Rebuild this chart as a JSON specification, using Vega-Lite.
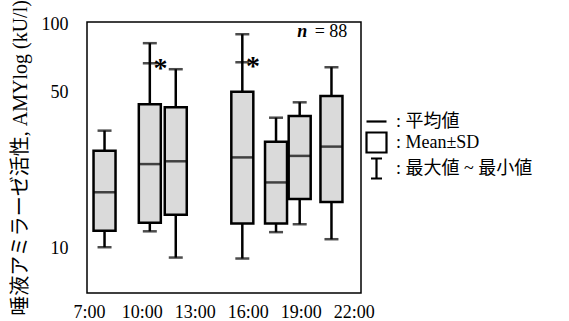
{
  "$schema": "https://vega.github.io/schema/vega-lite/v6.json",
  "width": 274,
  "height": 271,
  "autosize": {"type": "none"},
  "padding": {"left": 87, "top": 22, "right": 208, "bottom": 28},
  "background": "white",
  "config": {
    "view": {"stroke": "black", "strokeWidth": 1.5, "fill": "#f4f4f4"},
    "font": "Liberation Serif"
  },
  "datasets": {
    "boxes": [
      {"time": "7:45", "hour": 7.885, "min": 10.1, "lo": 11.96, "mean": 17.8, "hi": 27.3, "max": 33.6},
      {"time": "10:30", "hour": 10.45, "min": 11.9, "lo": 13.0, "mean": 23.8, "hi": 44.1, "max": 82.8},
      {"time": "12:00", "hour": 11.92, "min": 9.08, "lo": 14.1, "mean": 24.5, "hi": 42.8, "max": 63.3},
      {"time": "15:40", "hour": 15.69, "min": 8.99, "lo": 12.9, "mean": 25.5, "hi": 50.2, "max": 90.8},
      {"time": "17:35", "hour": 17.6, "min": 11.8, "lo": 12.9, "mean": 19.7, "hi": 30.0, "max": 38.4},
      {"time": "18:55", "hour": 18.94, "min": 12.8, "lo": 16.6, "mean": 25.9, "hi": 39.1, "max": 45.0},
      {"time": "20:45", "hour": 20.74, "min": 10.97, "lo": 16.1, "mean": 28.5, "hi": 48.0, "max": 64.6}
    ],
    "marks": [
      {"hour": 10.45, "value": 67.3, "starHour": 11.05, "starValue": 68.0, "star": "*"},
      {"hour": 15.69, "value": 68.0, "starHour": 16.29, "starValue": 69.5, "star": "*"}
    ],
    "note": [
      {"hour": 21.64, "value": 93, "eq": "= 88", "n": "n"}
    ],
    "legend": [
      {"item": ":  平均値"},
      {"item": ":  Mean±SD"},
      {"item": ":  最大値 ~ 最小値"}
    ]
  },
  "layer": [
    {
      "data": {"name": "boxes"},
      "mark": {"type": "rule", "color": "black", "strokeWidth": 2.5},
      "encoding": {
        "x": {
          "field": "hour", "type": "quantitative",
          "scale": {"domain": [7.175, 22.13], "nice": false, "zero": false},
          "axis": {
            "values": [7, 10, 13, 16, 19, 22],
            "labelExpr": "datum.value + ':00'",
            "title": null, "grid": false, "ticks": false, "domain": false,
            "labelFont": "Liberation Serif", "labelFontSize": 18, "labelColor": "black",
            "labelPadding": 10, "labelFlush": false, "labelOverlap": false
          }
        },
        "y": {
          "field": "min", "type": "quantitative",
          "scale": {"type": "log", "domain": [6.3, 103], "nice": false},
          "axis": {
            "values": [10, 50, 100],
            "title": "唾液アミラーゼ活性, AMYlog (kU/l)",
            "titleFont": "Liberation Serif, Noto Sans CJK JP", "titleFontSize": 20,
            "titleFontWeight": "normal", "titleColor": "black", "titlePadding": 11,
            "grid": false, "ticks": false, "domain": false,
            "labelFont": "Liberation Serif", "labelFontSize": 18, "labelColor": "black",
            "labelPadding": 19, "labelFlush": false, "labelOverlap": false
          }
        },
        "y2": {"field": "max"}
      }
    },
    {
      "data": {"name": "boxes"},
      "mark": {"type": "bar", "size": 22, "fill": "#dadada", "stroke": "black", "strokeWidth": 2.5},
      "encoding": {
        "x": {"field": "hour", "type": "quantitative"},
        "y": {"field": "lo", "type": "quantitative"},
        "y2": {"field": "hi"}
      }
    },
    {
      "data": {"name": "boxes"},
      "mark": {"type": "tick", "orient": "horizontal", "size": 22, "thickness": 2.5, "color": "black"},
      "encoding": {
        "x": {"field": "hour", "type": "quantitative"},
        "y": {"field": "mean", "type": "quantitative"}
      }
    },
    {
      "data": {"name": "boxes"},
      "mark": {"type": "tick", "orient": "horizontal", "size": 14, "thickness": 2.5, "color": "black"},
      "encoding": {
        "x": {"field": "hour", "type": "quantitative"},
        "y": {"field": "max", "type": "quantitative"}
      }
    },
    {
      "data": {"name": "boxes"},
      "mark": {"type": "tick", "orient": "horizontal", "size": 14, "thickness": 2.5, "color": "black"},
      "encoding": {
        "x": {"field": "hour", "type": "quantitative"},
        "y": {"field": "min", "type": "quantitative"}
      }
    },
    {
      "data": {"name": "marks"},
      "mark": {"type": "tick", "orient": "horizontal", "size": 14, "thickness": 2.5, "color": "black"},
      "encoding": {
        "x": {"field": "hour", "type": "quantitative"},
        "y": {"field": "value", "type": "quantitative"}
      }
    },
    {
      "data": {"name": "marks"},
      "mark": {"type": "text", "font": "Liberation Serif", "fontSize": 28, "fontWeight": "bold", "baseline": "middle", "align": "center", "dy": 7, "color": "black"},
      "encoding": {
        "x": {"field": "starHour", "type": "quantitative"},
        "y": {"field": "starValue", "type": "quantitative"},
        "text": {"field": "star"}
      }
    },
    {
      "data": {"name": "note"},
      "mark": {"type": "text", "font": "Liberation Serif", "fontSize": 18, "baseline": "middle", "align": "right", "color": "black"},
      "encoding": {
        "x": {"field": "hour", "type": "quantitative"},
        "y": {"field": "value", "type": "quantitative"},
        "text": {"field": "eq"}
      }
    },
    {
      "data": {"name": "note"},
      "mark": {"type": "text", "font": "Liberation Serif", "fontSize": 18, "fontStyle": "italic", "fontWeight": "bold", "baseline": "middle", "align": "right", "dx": -40, "color": "black"},
      "encoding": {
        "x": {"field": "hour", "type": "quantitative"},
        "y": {"field": "value", "type": "quantitative"},
        "text": {"field": "n"}
      }
    },
    {
      "data": {"name": "legend"},
      "mark": {"type": "point", "opacity": 0, "filled": false},
      "encoding": {
        "shape": {
          "field": "item", "type": "nominal",
          "scale": {
            "domain": [":  平均値", ":  Mean±SD", ":  最大値 ~ 最小値"],
            "range": ["M-1,0H1", "square", "M-0.55,-1H0.55M0,-1V1M-0.55,1H0.55"]
          },
          "legend": {
            "title": null, "orient": "none", "legendX": 278, "legendY": 88, "padding": 0,
            "symbolSize": 400, "symbolStrokeWidth": 2.2, "symbolStrokeColor": "black",
            "symbolFillColor": "#dadada", "symbolOpacity": 1,
            "labelFont": "Liberation Serif, Noto Sans CJK JP", "labelFontSize": 18,
            "labelColor": "black", "labelOffset": 8, "rowPadding": -5, "labelLimit": 300
          }
        }
      }
    }
  ]
}
